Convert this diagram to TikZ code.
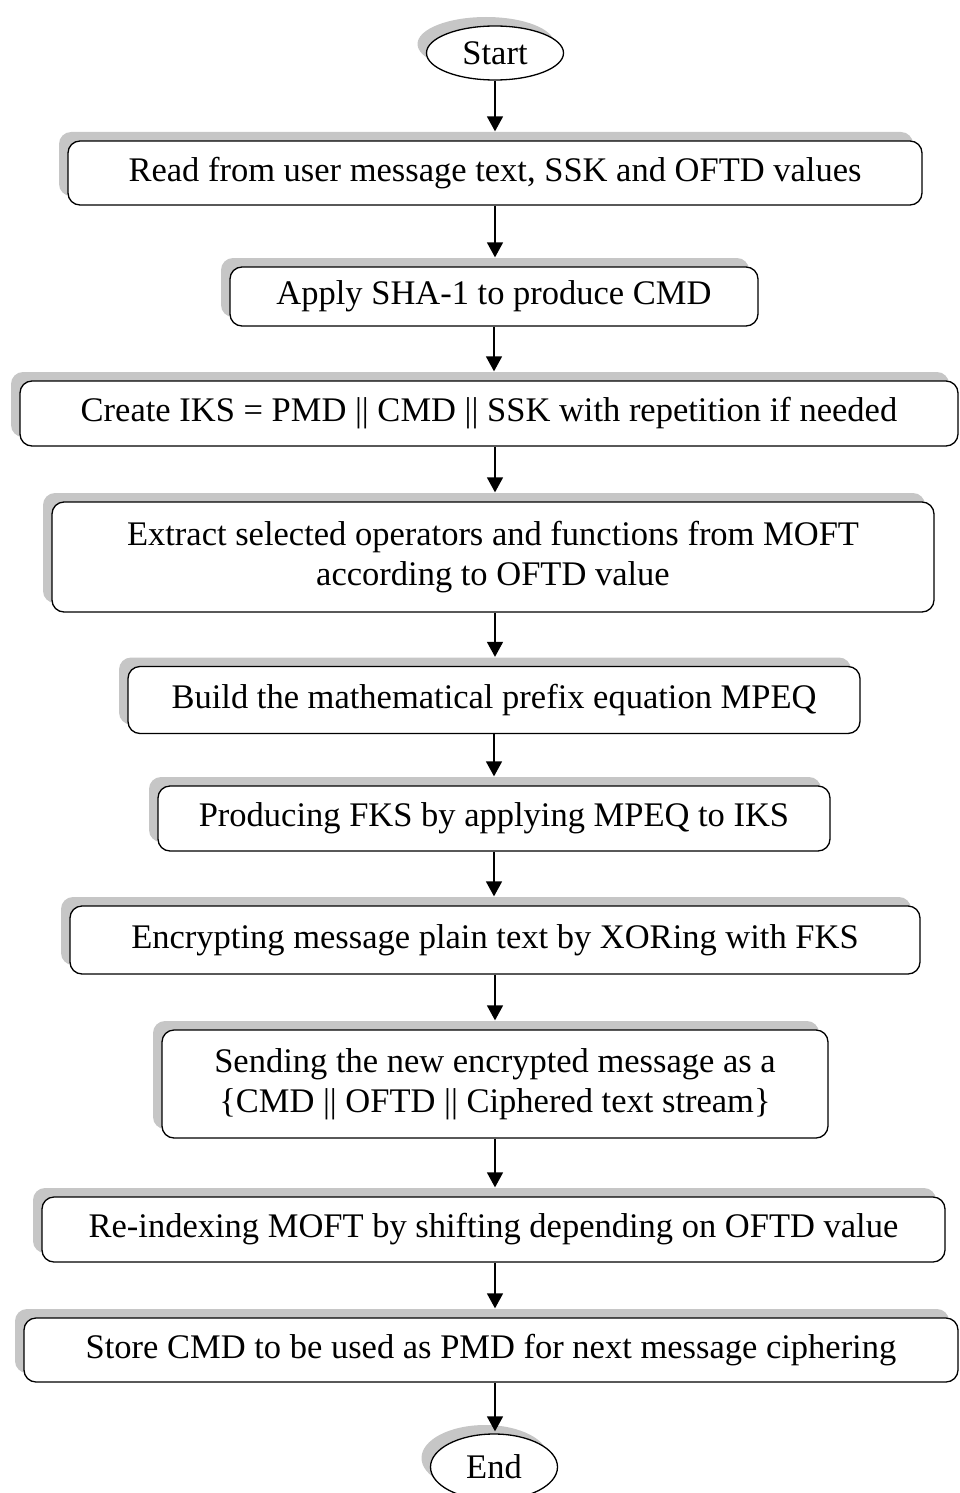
\documentclass[tikz,border=0pt]{standalone}
\usepackage{fontspec}
\setmainfont{Liberation Serif}
\usetikzlibrary{shapes.geometric,shadows,arrows.meta}

\begin{document}
\begin{tikzpicture}[x=1pt,y=1pt,yscale=-1,xscale=1,
		shade/.style={drop shadow={shadow xshift=-9pt,shadow yshift=9pt,fill=gray!45,opacity=1}},
		term/.style={ellipse,draw,line width=1.3pt,fill=white,shade,inner sep=0pt,font=\fontsize{34.5}{40}\selectfont},
		stepbox/.style={rectangle,rounded corners=12pt,draw,line width=1.3pt,fill=white,shade,align=center,inner sep=0pt,font=\fontsize{34.5}{40}\selectfont},
		flow/.style={line width=1.5pt,-{Triangle[length=15pt,width=16pt]}},
		toshadow/.style={flow,shorten >=9pt}]
	%set diagram size to the reference
	\useasboundingbox (0,0) rectangle (960,1493);

	% Start / End
	\node [term,minimum width=137pt,minimum height=54pt] (start) at (495,53) {Start};
	\node [term,minimum width=127pt,minimum height=66pt] (end) at (494,1467) {End};

	% Steps
	\node [stepbox,minimum width=854pt,minimum height=64pt] (read) at (495,173) {Read from user message text, SSK and OFTD values};
	\node [stepbox,minimum width=528pt,minimum height=59pt] (sha) at (494,296.5) {Apply SHA-1 to produce CMD};
	\node [stepbox,minimum width=938pt,minimum height=65pt] (iks) at (489,413.5) {Create IKS = PMD || CMD || SSK with repetition if needed};
	\node [stepbox,minimum width=882pt,minimum height=110pt] (extract) at (493,557) {Extract selected operators and functions from MOFT\\according to OFTD value};
	\node [stepbox,minimum width=732pt,minimum height=67pt] (mpeq) at (494,700) {Build the mathematical prefix equation MPEQ};
	\node [stepbox,minimum width=672pt,minimum height=65pt] (fks) at (494,818.5) {Producing FKS by applying MPEQ to IKS};
	\node [stepbox,minimum width=850pt,minimum height=68pt] (xor) at (495,940) {Encrypting message plain text by XORing with FKS};
	\node [stepbox,minimum width=666pt,minimum height=108pt] (send) at (495,1084) {Sending the new encrypted message as a\\\{CMD || OFTD || Ciphered text stream\}};
	\node [stepbox,minimum width=903pt,minimum height=65pt] (reindex) at (493.5,1229.5) {Re-indexing MOFT by shifting depending on OFTD value};
	\node [stepbox,minimum width=934pt,minimum height=64pt] (store) at (491,1350) {Store CMD to be used as PMD for next message ciphering};

	% Arrows
	\draw [toshadow] (start) -- (start |- read.north);
	\draw [toshadow] (read) -- (read |- sha.north);
	\draw [toshadow] (sha) -- (sha |- iks.north);
	\draw [toshadow] (read |- iks.south) -- (read |- extract.north);
	\draw [toshadow] (read |- extract.south) -- (read |- mpeq.north);
	\draw [toshadow] (mpeq) -- (mpeq |- fks.north);
	\draw [toshadow] (fks) -- (fks |- xor.north);
	\draw [toshadow] (xor) -- (xor |- send.north);
	\draw [toshadow] (send) -- (send |- reindex.north);
	\draw [toshadow] (read |- reindex.south) -- (read |- store.north);
	\draw [flow,shorten >=2pt] (read |- store.south) -- (read |- end.north);
\end{tikzpicture}
\end{document}
